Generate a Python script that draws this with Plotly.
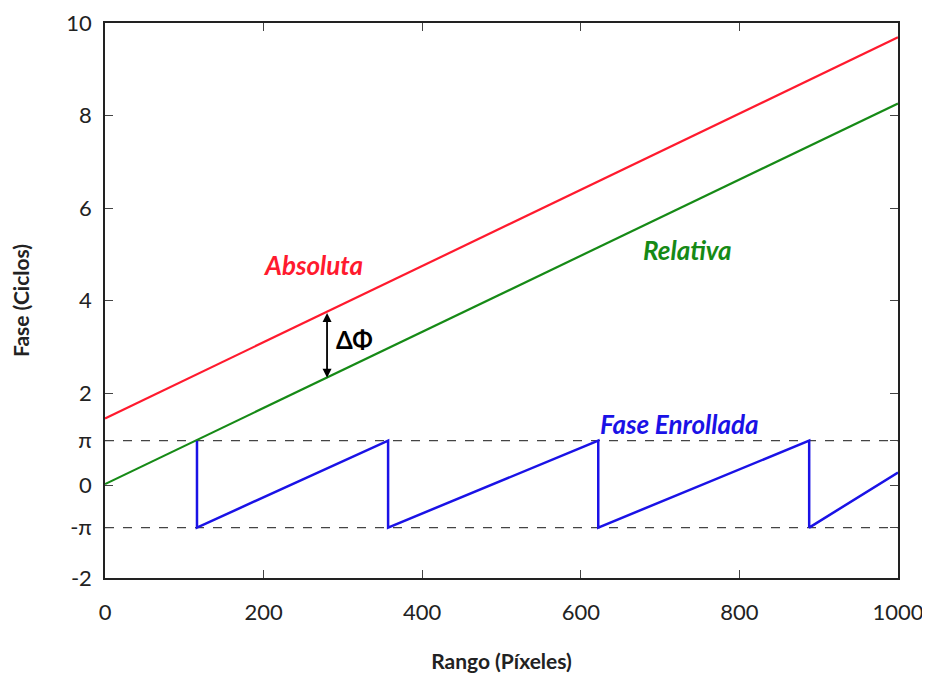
import plotly.graph_objects as go

# Data
x_lines = [0, 1000]
absoluta = [1.45, 9.69]
relativa = [0.03, 8.26]
PI_Y = 0.97
NEG_PI_Y = -0.91
wrapped_x = [116, 116, 357, 357, 622, 622, 888, 888, 1000]
wrapped_y = [PI_Y, NEG_PI_Y, PI_Y, NEG_PI_Y, PI_Y, NEG_PI_Y, PI_Y, NEG_PI_Y, 0.28]
ytick_vals = [-2, NEG_PI_Y, 0, PI_Y, 2, 4, 6, 8, 10]
ytick_text = ["-2", "-π", "0", "π", "2", "4", "6", "8", "10"]
xtick_vals = [0, 200, 400, 600, 800, 1000]
arrow_x = 280
arrow_top = 3.76
arrow_bot = 2.33

FONT = "Lato, Open Sans, sans-serif"

fig = go.Figure()
for yv in [PI_Y, NEG_PI_Y]:
    fig.add_trace(go.Scatter(x=x_lines, y=[yv, yv], mode="lines",
                             line=dict(color="#444444", width=1.2, dash="dash"),
                             showlegend=False, hoverinfo="skip"))
fig.add_trace(go.Scatter(x=x_lines, y=absoluta, mode="lines",
                         line=dict(color="#ff1a2e", width=2.2), showlegend=False))
fig.add_trace(go.Scatter(x=x_lines, y=relativa, mode="lines",
                         line=dict(color="#168a16", width=2.2), showlegend=False))
fig.add_trace(go.Scatter(x=wrapped_x, y=wrapped_y, mode="lines",
                         line=dict(color="#1a12e6", width=2.5), showlegend=False))

fig.add_annotation(x=262, y=4.77, text="<b><i>Absoluta</i></b>", showarrow=False,
                   font=dict(family=FONT, size=26, color="#ff1a2e"))
fig.add_annotation(x=734, y=5.09, text="<b><i>Relativa</i></b>", showarrow=False,
                   font=dict(family=FONT, size=26, color="#168a16"))
fig.add_annotation(x=724, y=1.33, text="<b><i>Fase Enrollada</i></b>", showarrow=False,
                   font=dict(family=FONT, size=26, color="#1a12e6"))
fig.add_annotation(x=314, y=3.15, text="<b>ΔΦ</b>", showarrow=False,
                   font=dict(family=FONT, size=24, color="black"))
fig.add_annotation(x=arrow_x, y=arrow_bot, ax=arrow_x, ay=arrow_top,
                   axref="x", ayref="y", xref="x", yref="y", text="",
                   showarrow=True, arrowhead=2, arrowside="end+start",
                   arrowsize=1, arrowwidth=1.8, arrowcolor="black")

fig.update_xaxes(range=[0, 1000], tickvals=xtick_vals, ticks="inside", ticklen=8,
                 showline=True, linecolor="#222222", linewidth=1.5, mirror="ticks",
                 showgrid=False, zeroline=False, ticklabelstandoff=14, automargin=False,
                 tickfont=dict(family=FONT, size=22, color="#222222"),
                 title=dict(text="<b>Rango (Píxeles)</b>", standoff=30,
                            font=dict(family=FONT, size=21, color="#222222")))
fig.update_yaxes(range=[-2, 10], tickvals=ytick_vals, ticktext=ytick_text,
                 ticks="inside", ticklen=8,
                 showline=True, linecolor="#222222", linewidth=1.5, mirror="ticks",
                 showgrid=False, zeroline=False, ticklabelstandoff=7, automargin=False,
                 tickfont=dict(family=FONT, size=22, color="#222222"),
                 title=dict(text="<b>Fase (Ciclos)</b>", standoff=36,
                            font=dict(family=FONT, size=21, color="#222222")))

fig.update_layout(width=930, height=679, plot_bgcolor="white", paper_bgcolor="white",
                  margin=dict(l=97, r=40, t=15, b=109))
fig.write_html("out.html")
